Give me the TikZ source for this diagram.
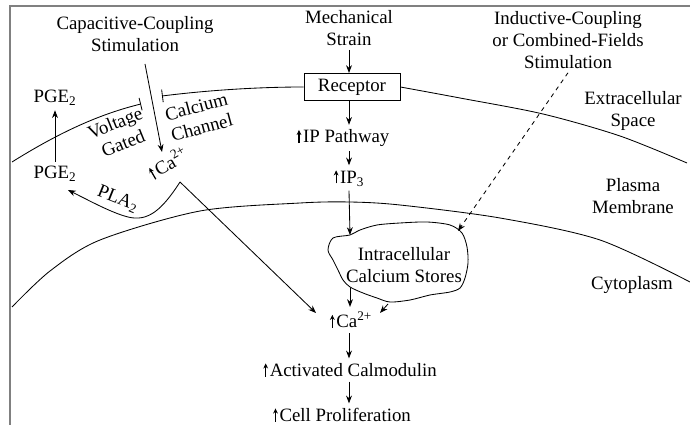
\documentclass[tikz,border=0pt]{standalone}
\usepackage{fontspec}
\setmainfont{Liberation Serif}
\newfontfamily\figfont{Liberation Serif}
\usetikzlibrary{arrows.meta}

\newcommand{\upar}{\tikz[baseline=0pt]\draw[line width=0.9pt,-{Stealth[length=3.6pt,width=3.4pt]}] (0pt,-0.3pt) -- (0pt,9pt);\hspace{1.2pt}}

\begin{document}
\begin{tikzpicture}[x=0.025cm, y=-0.025cm,
    txt/.style={font=\figfont\fontsize{13.4}{15.4}\selectfont, inner sep=3pt, align=center},
    flow/.style={line width=0.6pt, -{Stealth[length=5.5pt,width=4.2pt]}},
    membrane/.style={line width=0.6pt}]
    \useasboundingbox (0,0) rectangle (690,425);
    \draw[gray, line width=1.4pt] (10,425) -- (10,6) -- (690,6);

    % stimuli
    \node[txt] (capstim) at (135,34) {Capacitive-Coupling\\Stimulation};
    \node[txt] (mech) at (349,28) {Mechanical\\Strain};
    \node[txt] (induct) at (568,40) {Inductive-Coupling\\or Combined-Fields\\Stimulation};

    % main pathway
    \node[txt, draw, line width=0.6pt, minimum width=2.4cm, minimum height=0.68cm] (receptor) at (352,87) {Receptor};
    \node[txt] (ippath) at (343,138) {\upar IP Pathway};
    \node[txt] (ip3) at (349,178) {\upar IP\textsubscript{3}};
    \node[txt] (stores) at (404,265) {Intracellular\\Calcium Stores};
    \node[txt] (ca) at (351,320) {\upar Ca\textsuperscript{2+}};
    \node[txt] (calm) at (350,370) {\upar Activated Calmodulin};
    \node[txt] (prolif) at (342,415) {\upar Cell Proliferation};

    % left side
    \node[txt] (pgeA) at (55,98) {PGE\textsubscript{2}};
    \node[txt] (pgeB) at (55,174) {PGE\textsubscript{2}};
    \node[txt, rotate=30, inner sep=1pt] (cachan) at (168,163) {\upar Ca\textsuperscript{2+}};
    \node[txt, rotate=22, inner sep=1pt] (voltage) at (119,133) {Voltage\\Gated};
    \node[txt, rotate=15, inner sep=1pt] (calcium) at (199,117) {Calcium\\Channel};
    \node[txt, rotate=-22, inner sep=1pt] (pla) at (118,199) {PLA\textsubscript{2}};

    % regions
    \node[txt] (extra) at (633,111) {Extracellular\\Space};
    \node[txt] (plasma) at (633,196) {Plasma\\Membrane};
    \node[txt] (cyto) at (632,285) {Cytoplasm};

    % membranes
    \draw[membrane, -{Bar[width=9pt]}] (12,162) .. controls (60,132) and (100,114) .. (141,104);
    \draw[membrane, {Bar[width=9pt]}-] (162,96) .. controls (210,90) and (260,87) .. (receptor.west);
    \draw[membrane] plot[smooth] coordinates {(receptor.east) (460,98) (543,114) (620,136) (687,163)};
    \draw[membrane] plot[smooth] coordinates {(12,307) (50,271) (100,240) (200,211) (300,203) (350,202) (400,205) (500,218) (600,240) (690,282)};

    % calcium stores
    \draw[membrane] plot[smooth cycle] coordinates {(333,238) (350,235) (360,230) (377,225) (400,223) (427,222) (450,225) (462,233) (467,247) (468,263) (465,278) (460,288) (450,292) (430,295) (410,300) (390,302) (377,298) (363,293) (350,287) (343,280) (338,270) (333,260) (328,250)};
    \coordinate (storetop) at (350,235);
    \coordinate (storene) at (458,231);
    \coordinate (storebot) at (350,288);
    \coordinate (storebr) at (388,304);
    \coordinate (cane) at (380,313);
    \coordinate (canw) at (316,313);
    \coordinate (gatein) at (162,152);
    \coordinate (plapeak) at (180,182);
    \coordinate (pgetip) at (68,190);

    % arrows
    \draw[flow] (mech.south) -- (mech.south |- receptor.north);
    \draw[flow] (receptor.south -| mech.south) -- (mech.south |- ippath.north);
    \draw[flow] (ippath.south -| mech.south) -- (ip3.north);
    \draw[flow] (ip3.south) -- (storetop);
    \draw[flow, dashed] (induct.south) -- (storene);
    \draw[flow] (storebot) -- (storebot |- ca.north);
    \draw[flow] (storebr) -- (cane);
    \draw[flow] (ca.south -| ip3.south) -- (ip3.south |- calm.north);
    \draw[flow] (calm.south -| ip3.south) -- (ip3.south |- prolif.north);
    \draw[flow] ([xshift=0.25cm,yshift=-0.2cm]capstim.south) -- (gatein);
    \draw[flow] (pgeB.north) -- (pgeA.south);
    \draw[flow] (plapeak) .. controls (162,210) and (148,222) .. (128,217) .. controls (112,213) and (90,201) .. (pgetip);
    \draw[flow] (plapeak) -- (canw);
\end{tikzpicture}
\end{document}
